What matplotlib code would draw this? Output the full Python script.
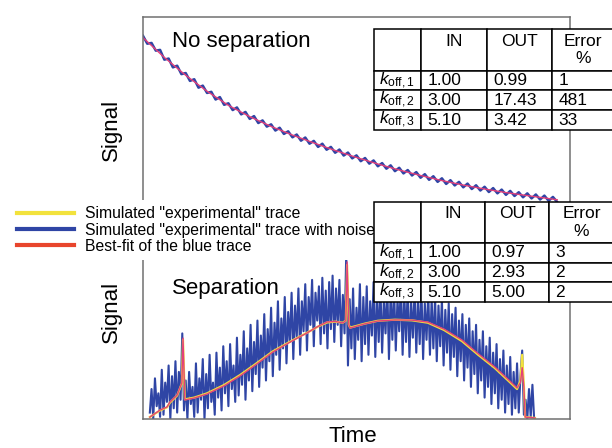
import numpy as np
import matplotlib.pyplot as plt

plt.rcParams['font.family'] = ['Liberation Sans', 'DejaVu Sans']
plt.rcParams['mathtext.fontset'] = 'custom'
plt.rcParams['mathtext.rm'] = 'Liberation Sans'
plt.rcParams['mathtext.it'] = 'Liberation Sans:italic'

YELLOW = '#f2e23c'
BLUE = '#2f45a5'
RED = '#e8452c'
FIT_RED = '#e4407a'
GREY = '#707070'

# ---------- top panel: no separation (signal in % of panel height) ----------
top_t = np.arange(98)
top_noisy = [90.0, 85.8, 86.2, 82.1, 82.5, 77.3, 77.9, 73.2, 74.1, 69.6,
             70.2, 66.0, 66.9, 62.4, 63.5, 59.6, 60.2, 56.1, 57.4, 53.3,
             54.1, 50.5, 51.9, 48.2, 49.5, 45.8, 47.3, 43.6, 45.0, 41.7,
             42.9, 39.6, 41.1, 37.8, 39.2, 36.0, 37.5, 34.2, 35.9, 32.6,
             34.1, 30.9, 32.6, 29.4, 30.9, 27.8, 29.5, 26.3, 27.9, 24.8,
             26.4, 23.3, 25.0, 22.0, 23.7, 20.6, 22.3, 19.3, 21.1, 18.0,
             19.8, 16.8, 18.6, 15.7, 17.5, 14.5, 16.4, 13.4, 15.3, 12.3,
             14.2, 11.2, 13.2, 10.4, 12.3, 9.4, 11.4, 8.5, 10.5, 7.7,
             9.7, 6.9, 9.0, 6.2, 8.2, 5.4, 7.5, 4.8, 6.8, 4.1,
             6.2, 3.5, 5.6, 2.9, 5.0, 2.2, 4.3, 1.6]
top_fit_t = [0, 5, 10, 15, 20, 25, 30, 35, 40, 45, 50, 55, 60, 65, 70, 75, 80, 85, 90, 97]
top_fit = [89, 78.5, 69, 60.5, 53, 47, 41.8, 37.2, 33, 29, 25.3, 21.8, 18.6, 15.7, 13,
           10.6, 8.5, 6.6, 5, 2.8]

# ---------- bottom panel: separation ----------
bot_noisy = [3, 14, 0, 19, 6, 12, 1, 23, 2, 17, 8, 25, 0, 20, 5, 27, 3, 22, 9, 40,
             4, 18, 0, 22, 7, 15, 1, 26, 3, 19, 9, 28, 0, 21, 5, 30, 8, 17, 2, 31,
             10, 24, 4, 34, 12, 27, 6, 35, 14, 25, 8, 38, 11, 30, 16, 41, 9, 33, 18, 44,
             13, 36, 21, 46, 15, 39, 24, 49, 18, 42, 27, 52, 20, 45, 30, 55, 23, 47, 33, 57,
             26, 50, 36, 59, 28, 53, 38, 61, 30, 55, 41, 63, 32, 57, 44, 65, 34, 59, 46, 62,
             35, 66, 40, 60, 33, 64, 42, 67, 36, 61, 44, 65, 34, 58, 40, 77,
             25, 56, 33, 61, 28, 52, 37, 63, 27, 57, 35, 62, 30, 55, 39, 64, 29, 58, 36, 62,
             31, 55, 40, 63, 28, 59, 37, 61, 32, 56, 41, 64, 30, 58, 36, 62, 29, 55, 38, 60,
             31, 57, 35, 61, 28, 54, 37, 59, 30, 56, 33, 57, 27, 53, 34, 56, 25, 51, 31, 54,
             23, 49, 29, 52, 20, 46, 27, 49, 18, 44, 24, 47, 15, 41, 21, 44, 12, 37, 18, 41,
             10, 34, 15, 38, 7, 31, 12, 35, 5, 28, 9, 32, 3, 25, 7, 29, 2, 22, 5, 26,
             3, 20, 32, 2, 9, 0, 14, 1, 16, 0]
bot_t = 1.6 + 0.4 * np.arange(len(bot_noisy))
fit_t = [1.6, 4.0, 5.6, 6.3, 8.0, 8.9, 9.1, 9.37, 9.8, 12, 15, 19, 22.7, 26.5, 30.4,
         34.5, 38.4, 41, 43.1, 45, 46.8, 47.5, 47.8, 48.2, 48.5, 52, 55, 59, 63, 66.7,
         70.5, 74.7, 78.5, 82.4, 85.5, 87.6, 88.4, 88.8, 89.2, 89.5, 91.8]
fit_v = [0.9, 4.2, 5.6, 7.9, 11.2, 15.9, 16.8, 37.8, 8.9, 9.8, 11.7, 15.5, 20.1, 25.5, 31.3,
         36, 40.2, 43.3, 45.3, 45.6, 44.9, 46, 73.4, 44, 42.5, 44.5, 45.8, 46.3, 46.2, 45.3,
         42, 36.9, 30.5, 24.3, 18.5, 14.5, 17, 24, 15, 0.9, 0.5]
true_v = [0.9, 4.0, 5.4, 7.6, 11.0, 15.6, 16.6, 37.0, 9.2, 10.0, 12.0, 15.9, 20.5, 25.9, 31.6,
          36.2, 40.3, 43.2, 45.1, 45.5, 45.0, 46, 72.0, 44, 42.7, 44.6, 45.9, 46.4, 46.1, 45.0,
          41.6, 36.4, 30.0, 23.8, 18.0, 14.0, 18, 30, 16, 0.9, 0.5]

table_header = ['', 'IN\n', 'OUT\n', 'Error\n%']
table_rows_a = [[r'$k_{\mathrm{off,1}}$', '1.00', '0.99', '1'],
                [r'$k_{\mathrm{off,2}}$', '3.00', '17.43', '481'],
                [r'$k_{\mathrm{off,3}}$', '5.10', '3.42', '33']]
table_rows_b = [[r'$k_{\mathrm{off,1}}$', '1.00', '0.97', '3'],
                [r'$k_{\mathrm{off,2}}$', '3.00', '2.93', '2'],
                [r'$k_{\mathrm{off,3}}$', '5.10', '5.00', '2']]

W, H = 612, 448
fig = plt.figure(figsize=(6.12, 4.48), dpi=100)


def px_rect(x0, y0, x1, y1):
    return [x0 / W, 1 - y1 / H, (x1 - x0) / W, (y1 - y0) / H]


ax1 = fig.add_axes(px_rect(143, 17, 570, 205))
ax2 = fig.add_axes(px_rect(143, 205, 570, 419))
for ax in (ax1, ax2):
    ax.set_xlim(0, 100)
    ax.set_ylim(0, 100)
    ax.set_xticks([]); ax.set_yticks([])
    for s in ax.spines.values():
        s.set_color(GREY); s.set_linewidth(1.1)
ax1.spines['bottom'].set_visible(False)
ax2.spines['top'].set_visible(False)

ax1.plot(top_t, top_noisy, color=BLUE, lw=1.8)
ax1.plot(top_fit_t, top_fit, color=FIT_RED, lw=1.0)

l_blue, = ax2.plot(bot_t, bot_noisy, color=BLUE, lw=1.5)
l_yel, = ax2.plot(fit_t, true_v, color=YELLOW, lw=1.6)
l_red, = ax2.plot(fit_t, fit_v, color=FIT_RED, lw=1.0)

fig.text(172 / W, 1 - 42 / H, 'No separation', fontsize=16, va='center')
fig.text(172 / W, 1 - 288 / H, 'Separation', fontsize=16, va='center')
fig.text(111 / W, 1 - 130 / H, 'Signal', fontsize=16, rotation=90, ha='center', va='center')
fig.text(111 / W, 1 - 312 / H, 'Signal', fontsize=16, rotation=90, ha='center', va='center')
fig.text(353 / W, 1 - 436 / H, 'Time', fontsize=16, ha='center', va='center')

leg = fig.legend([l_yel, l_blue, l_red],
                 ['Simulated "experimental" trace',
                  'Simulated "experimental" trace with noise',
                  'Best-fit of the blue trace'],
                 loc='upper left', bbox_to_anchor=(11 / W, 1 - 200 / H),
                 borderaxespad=0, borderpad=0.4, fontsize=11.3,
                 handlelength=3.6, handletextpad=0.7, labelspacing=0.08,
                 frameon=True, fancybox=False, framealpha=1,
                 facecolor='white', edgecolor='none')
for ln in leg.get_lines():
    ln.set_linewidth(3)
leg.get_lines()[2].set_color(RED)


def draw_table(rect, rows, col_w, row_h):
    tax = fig.add_axes(rect)
    tax.set_axis_off()
    tax.set_zorder(6)
    tb = tax.table(cellText=[table_header] + rows, colWidths=col_w,
                   cellLoc='left', bbox=[0, 0, 1, 1])
    tb.auto_set_font_size(False)
    tb.set_fontsize(12.5)
    for (r, c), cell in tb.get_celld().items():
        cell.set_height(row_h[r])
        cell.set_linewidth(1.1)
        cell.set_facecolor('white')
        if r == 0:
            cell.get_text().set_ha('center')
    return tb


draw_table(px_rect(374, 29, 614, 130), table_rows_a, [47, 66, 65, 62], [2.1, 1, 1, 1])
draw_table(px_rect(374, 202, 614, 302), table_rows_b, [47, 64, 64, 65], [2.1, 1, 1, 1])

fig.savefig('out.png', dpi=100)
